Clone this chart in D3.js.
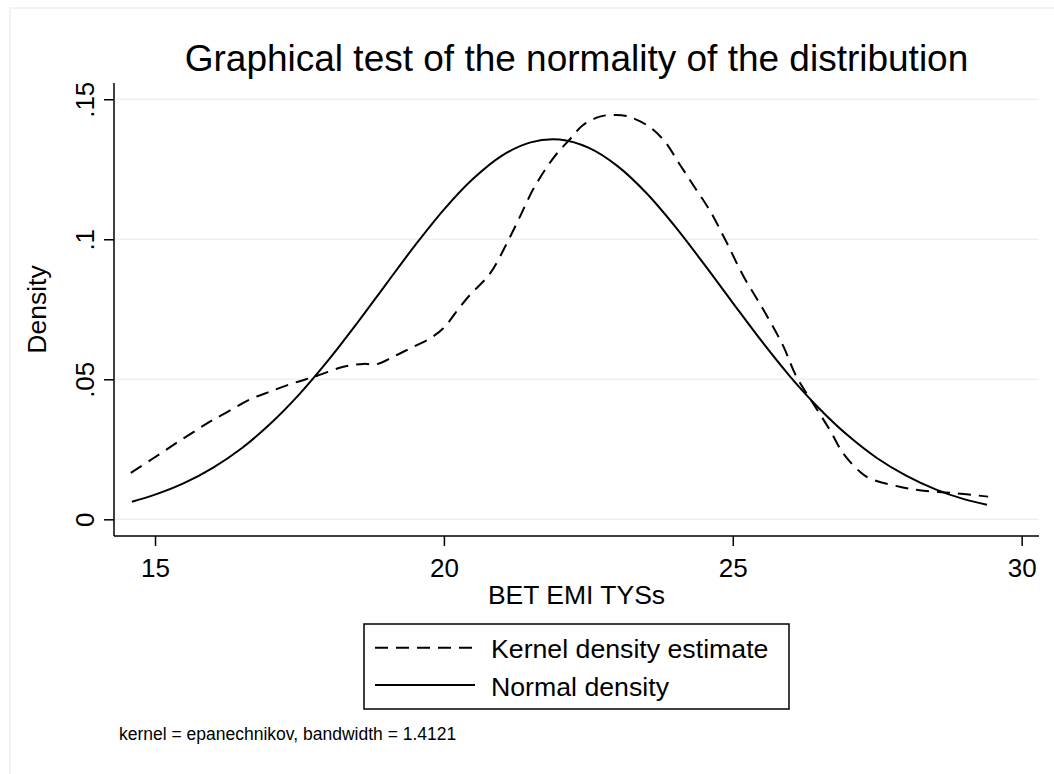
<!DOCTYPE html>
<html><head><meta charset="utf-8">
<script src="https://cdn.jsdelivr.net/npm/d3@7"></script>
<style>body{margin:0;background:#fff}svg{display:block}text{font-family:"Liberation Sans",Arial,sans-serif;fill:#000}</style>
</head><body><svg id="c" width="1054" height="774"></svg>
<script>
const title = "Graphical test of the normality of the distribution";
const xTitle = "BET EMI TYSs";
const yTitle = "Density";
const note = "kernel = epanechnikov, bandwidth = 1.4121";
const seriesNames = ["Kernel density estimate", "Normal density"];
const xTicks = [15, 20, 25, 30];
const yTicks = [0, 0.05, 0.1, 0.15];
const yTickLabels = ["0", ".05", ".1", ".15"];

// Kernel density estimate (dashed)
const kdeX = [14.58,14.97,15.38,15.72,15.95,16.24,16.64,16.99,17.39,17.80,18.26,18.61,18.84,19.13,19.42,19.76,19.99,20.28,20.45,20.80,21.09,21.31,21.55,21.89,22.18,22.41,22.70,22.93,23.16,23.51,23.80,24.08,24.32,24.61,24.89,25.18,25.53,25.87,26.10,26.39,26.68,26.91,27.20,27.37,27.89,28.30,28.76,29.42];
const kdeY = [0.0166,0.0218,0.0274,0.0319,0.0349,0.0382,0.0428,0.0456,0.0486,0.0512,0.0545,0.0555,0.0554,0.0581,0.0611,0.0646,0.0682,0.0759,0.0801,0.0878,0.0986,0.1078,0.1180,0.1289,0.1357,0.1408,0.1438,0.1444,0.1440,0.1408,0.1355,0.1268,0.1192,0.1100,0.0990,0.0870,0.0748,0.0620,0.0510,0.0414,0.0319,0.0236,0.0170,0.0146,0.0116,0.0102,0.0095,0.0081];

// Normal density (solid)
const normX = [14.6,15,15.5,16,16.5,17,17.5,18,18.5,19,19.5,20,20.5,21,21.5,22,22.5,23,23.5,24,24.5,25,25.5,26,26.5,27,27.5,28,28.5,29,29.4];
const normY = [0.0063,0.0088,0.0129,0.0184,0.0254,0.0342,0.0447,0.0568,0.0701,0.0840,0.0978,0.1106,0.1215,0.1298,0.1346,0.1356,0.1327,0.1262,0.1166,0.1046,0.0912,0.0773,0.0636,0.0508,0.0395,0.0298,0.0218,0.0156,0.0108,0.0072,0.0052];

const svg = d3.select("#c");
const gridC = "#eaf2f3";
const FONT = "Liberation Sans, Arial, sans-serif";
// outer frame
svg.append("rect").attr("x",10).attr("y",8).attr("width",1060).attr("height",800)
  .attr("fill","#fff").attr("stroke",gridC).attr("stroke-width",1.5);

const L=114, R=1039, T=83, B=536;
const x = d3.scaleLinear().domain([14.29, 30.30]).range([L, R]);
const y = d3.scaleLinear().domain([-0.00596, 0.1558]).range([B, T]);

// gridlines
svg.append("g").selectAll("line").data(yTicks).join("line")
  .attr("x1",L).attr("x2",R).attr("y1",d=>y(d)).attr("y2",d=>y(d))
  .attr("stroke",gridC).attr("stroke-width",1.5);

// axes
const xAxis = d3.axisBottom(x).tickValues(xTicks).tickSize(10).tickPadding(12.5).tickFormat(d3.format("d"));
const gx = svg.append("g").attr("transform",`translate(0,${B})`).call(xAxis);
gx.select(".domain").attr("d",`M${L},0H${R}`).attr("stroke","#000").attr("stroke-width",1.5);
gx.selectAll(".tick line").attr("stroke","#000").attr("stroke-width",1.5);
gx.selectAll(".tick text").attr("font-size",26).attr("font-family",FONT).attr("fill","#000");

const yAxis = d3.axisLeft(y).tickValues(yTicks).tickSize(10).tickPadding(6).tickFormat((d,i)=>yTickLabels[i]);
const gy = svg.append("g").attr("transform",`translate(${L},0)`).call(yAxis);
gy.select(".domain").attr("d",`M0,${T}V${B}`).attr("stroke","#000").attr("stroke-width",1.5);
gy.selectAll(".tick line").attr("stroke","#000").attr("stroke-width",1.5);
gy.selectAll(".tick text").attr("font-size",26).attr("font-family",FONT).attr("fill","#000")
  .attr("transform","rotate(-90)").attr("x",0).attr("y",-20.5).attr("dy",0).attr("text-anchor","middle");

// lines
const line = d3.line().x(d=>x(d[0])).y(d=>y(d[1])).curve(d3.curveCatmullRom.alpha(0.5));
svg.append("path").datum(normX.map((v,i)=>[v,normY[i]])).attr("d",line)
  .attr("fill","none").attr("stroke","#000").attr("stroke-width",2);
svg.append("path").datum(kdeX.map((v,i)=>[v,kdeY[i]])).attr("d",line)
  .attr("fill","none").attr("stroke","#000").attr("stroke-width",2).attr("stroke-dasharray","13,8");

// titles
svg.append("text").attr("x",(L+R)/2).attr("y",71).attr("text-anchor","middle").attr("font-size",37).text(title);
svg.append("text").attr("x",(L+R)/2).attr("y",604).attr("text-anchor","middle").attr("font-size",26.5).text(xTitle);
svg.append("text").attr("transform",`translate(46,${(T+B)/2}) rotate(-90)`).attr("text-anchor","middle").attr("font-size",26.5).text(yTitle);

// legend
const lg = svg.append("g");
lg.append("rect").attr("x",364).attr("y",624).attr("width",425).attr("height",85).attr("fill","#fff").attr("stroke","#000").attr("stroke-width",1.5);
const rows = [{y:647.7,dash:"13,8"},{y:685,dash:null}];
rows.forEach((r,i)=>{
  lg.append("line").attr("x1",375).attr("x2",475).attr("y1",r.y).attr("y2",r.y)
    .attr("stroke","#000").attr("stroke-width",2).attr("stroke-dasharray",r.dash);
  lg.append("text").attr("x",491).attr("y",r.y+10.5).attr("font-size",26.7).text(seriesNames[i]);
});

svg.append("text").attr("x",119).attr("y",740).attr("font-size",17.5).text(note);
</script></body></html>
